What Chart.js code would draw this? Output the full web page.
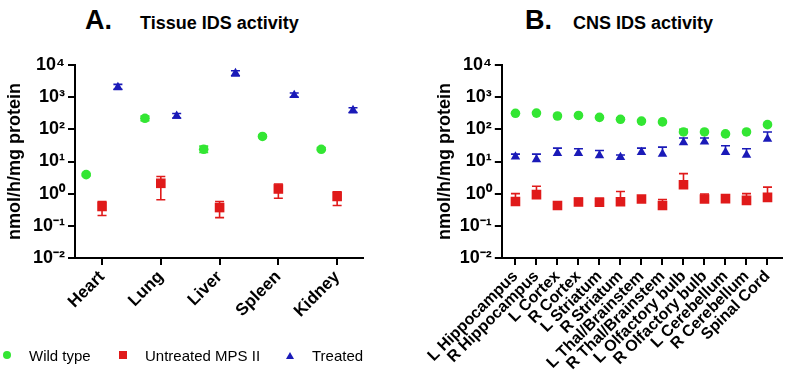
<!DOCTYPE html>
<html>
<head>
<meta charset="utf-8">
<script src="https://cdn.jsdelivr.net/npm/chart.js@4"></script>
<style>
  html, body { margin:0; padding:0; background:#fff; width:789px; height:377px; overflow:hidden; }
  body { position:relative; font-family:'Liberation Sans', Arial, sans-serif; color:#000; }
  .t { position:absolute; white-space:nowrap; line-height:1; font-weight:bold; }
  .lg { position:absolute; white-space:nowrap; line-height:1; font-size:15px; }
  canvas { position:absolute; top:0; }
</style>
</head>
<body>
<div class="t" style="left:85px;top:7px;font-size:27px">A.</div>
<div class="t" style="left:140px;top:14px;font-size:18px">Tissue IDS activity</div>
<div class="t" style="left:525px;top:7px;font-size:27px">B.</div>
<div class="t" style="left:573px;top:14px;font-size:18px">CNS IDS activity</div>

<canvas id="cA" width="400" height="377" style="left:0"></canvas>
<canvas id="cB" width="364" height="377" style="left:425px"></canvas>

<div style="position:absolute;left:3px;top:351px;width:8px;height:8px;border-radius:50%;background:#33e633"></div>
<div class="lg" style="left:29px;top:348px">Wild type</div>
<div style="position:absolute;left:119px;top:351px;width:8px;height:8px;background:#e01a1a"></div>
<div class="lg" style="left:145px;top:348px">Untreated MPS II</div>
<div style="position:absolute;left:286px;top:352px;width:0;height:0;border-left:4px solid transparent;border-right:4px solid transparent;border-bottom:7px solid #1a1ab8"></div>
<div class="lg" style="left:312px;top:348px">Treated</div>

<script>
// ---------- data ----------
const seriesNames = ['Wild type', 'Untreated MPS II', 'Treated'];

const tissueCategories = ['Heart', 'Lung', 'Liver', 'Spleen', 'Kidney'];
const tissueWildType     = [3.9, 220, 24, 60, 24];
const tissueWildTypeLow  = [3.6, 185, 19, 56, 22];
const tissueWildTypeHigh = [4.2, 260, 30, 65, 27];
const tissueUntreated     = [0.40, 2.1, 0.37, 1.4, 0.82];
const tissueUntreatedLow  = [0.21, 0.65, 0.18, 0.72, 0.43];
const tissueUntreatedHigh = [0.57, 3.4, 0.57, 2.0, 1.15];
const tissueTreated     = [2050, 260, 5500, 1150, 390];
const tissueTreatedLow  = [1750, 225, 4600, 1000, 330];
const tissueTreatedHigh = [2500, 310, 6600, 1350, 470];

const cnsCategories = ['L Hippocampus', 'R Hippocampus', 'L Cortex', 'R Cortex', 'L Striatum', 'R Striatum',
  'L Thal/Brainstem', 'R Thal/Brainstem', 'L Olfactory bulb', 'R Olfactory bulb', 'L Cerebellum', 'R Cerebellum', 'Spinal Cord'];
const cnsWildType     = [315, 320, 260, 270, 235, 205, 180, 170, 83, 83, 72, 83, 140];
const cnsWildTypeHigh = [330, 335, 280, 285, 250, 225, 195, 180, 100, 88, 76, 88, 150];
const cnsUntreated     = [0.57, 0.93, 0.43, 0.55, 0.54, 0.56, 0.68, 0.43, 1.9, 0.68, 0.70, 0.62, 0.77];
const cnsUntreatedHigh = [1.0, 1.7, 0.45, 0.72, 0.72, 1.17, 0.70, 0.66, 4.2, 0.98, 0.72, 1.0, 1.6];
const cnsTreated     = [14, 11.5, 18, 18, 15.4, 13.5, 19.5, 17, 39, 41, 19.5, 15.8, 50];
const cnsTreatedHigh = [17, 17, 26, 25, 22, 16, 26, 28, 54, 54, 31, 25, 83];

const yTicks = [0.01, 0.1, 1, 10, 100, 1000, 10000];
const yTickLabels = ['10\u207B\u00B2', '10\u207B\u00B9', '10\u2070', '10\u00B9', '10\u00B2', '10\u00B3', '10\u2074'];

// ---------- styles ----------
const FONT = "'Liberation Sans', Arial, sans-serif";
const GREEN = '#33e633', RED = '#e01a1a', BLUE = '#1a1ab8';

const errorBars = {
  id: 'errorBars',
  beforeDatasetsDraw(chart) {
    const ctx = chart.ctx, ys = chart.scales.y;
    chart.data.datasets.forEach((ds, i) => {
      const meta = chart.getDatasetMeta(i);
      ctx.save();
      ctx.strokeStyle = ds.borderColor;
      ctx.lineWidth = 1.6;
      meta.data.forEach((pt, j) => {
        const x = pt.x, y = pt.y;
        const hi = ds.errHigh ? ys.getPixelForValue(ds.errHigh[j]) : y;
        const lo = ds.errLow ? ys.getPixelForValue(ds.errLow[j]) : y;
        ctx.beginPath();
        if (hi < y - 0.5) { ctx.moveTo(x, y); ctx.lineTo(x, hi); ctx.moveTo(x - 4.5, hi); ctx.lineTo(x + 4.5, hi); }
        if (lo > y + 0.5) { ctx.moveTo(x, y); ctx.lineTo(x, lo); ctx.moveTo(x - 4.5, lo); ctx.lineTo(x + 4.5, lo); }
        ctx.stroke();
      });
      ctx.restore();
    });
  }
};

function yScale(width, titlePad) {
  return {
    type: 'logarithmic', min: 0.01, max: 10000,
    afterBuildTicks(s) { s.ticks = yTicks.map(v => ({ value: v })); },
    afterFit(s) { s.width = width; },
    ticks: { callback: (v, i) => yTickLabels[i], color: '#000', padding: 3, autoSkip: false,
             font: { family: FONT, size: 18, weight: 'bold' } },
    grid: { drawOnChartArea: false, drawTicks: true, tickLength: 7, color: '#000', lineWidth: 2 },
    border: { display: true, color: '#000', width: 2 },
    title: { display: true, text: 'nmol/h/mg protein', color: '#000', padding: { top: titlePad, bottom: 0 },
             font: { family: FONT, size: 18, weight: 'bold' } }
  };
}

function xScale(cats, min, max, height, fontSize) {
  return {
    type: 'linear', min: min, max: max,
    afterBuildTicks(s) { s.ticks = cats.map((c, i) => ({ value: i })); },
    afterFit(s) { s.height = height; },
    ticks: { callback: (v, i) => cats[i], color: '#000', padding: 2, autoSkip: false,
             maxRotation: 45, minRotation: 45, font: { family: FONT, size: fontSize, weight: 'bold' } },
    grid: { drawOnChartArea: false, drawTicks: true, tickLength: 7, color: '#000', lineWidth: 2 },
    border: { display: true, color: '#000', width: 2 }
  };
}

function ds(label, vals, off, color, style, radius, lo, hi) {
  return {
    label: label,
    data: vals.map((v, i) => ({ x: i + off, y: v })),
    backgroundColor: color, borderColor: color, borderWidth: 0,
    pointStyle: style, pointRadius: radius, pointHoverRadius: radius,
    errLow: lo, errHigh: hi
  };
}

const common = {
  responsive: false, animation: false, events: [],
  plugins: { legend: { display: false }, tooltip: { enabled: false } }
};

new Chart(document.getElementById('cA'), {
  type: 'scatter',
  data: { datasets: [
    ds(seriesNames[0], tissueWildType, -0.27, GREEN, 'circle', 4.8, tissueWildTypeLow, tissueWildTypeHigh),
    ds(seriesNames[1], tissueUntreated, 0, RED, 'rect', 6.8, tissueUntreatedLow, tissueUntreatedHigh),
    ds(seriesNames[2], tissueTreated, 0.27, BLUE, 'triangle', 5.5, tissueTreatedLow, tissueTreatedHigh)
  ]},
  options: Object.assign({}, common, {
    layout: { padding: { left: 0, right: 37, top: 65, bottom: 0 } },
    scales: { x: xScale(tissueCategories, -0.46, 4.44, 119, 17), y: yScale(75, 4) }
  }),
  plugins: [errorBars]
});

new Chart(document.getElementById('cB'), {
  type: 'scatter',
  data: { datasets: [
    ds(seriesNames[0], cnsWildType, 0, GREEN, 'circle', 4.8, null, cnsWildTypeHigh),
    ds(seriesNames[1], cnsUntreated, 0, RED, 'rect', 6.8, null, cnsUntreatedHigh),
    ds(seriesNames[2], cnsTreated, 0, BLUE, 'triangle', 5.5, null, cnsTreatedHigh)
  ]},
  options: Object.assign({}, common, {
    layout: { padding: { left: 0, right: 2, top: 65, bottom: 0 } },
    scales: { x: xScale(cnsCategories, -0.65, 12.7, 119, 16), y: yScale(74, 6) }
  }),
  plugins: [errorBars]
});
</script>
</body>
</html>
